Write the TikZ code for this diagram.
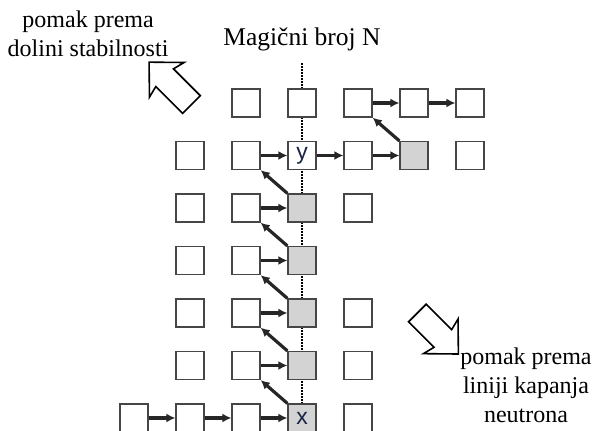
\documentclass[tikz,border=0pt]{standalone}
\usepackage{fontspec}
\setmainfont{Liberation Serif}
\newfontfamily\labfont{Liberation Sans}
\usetikzlibrary{arrows.meta}
\definecolor{boxgray}{RGB}{211,211,211}
\definecolor{edgegray}{RGB}{70,70,70}
\definecolor{labblue}{RGB}{25,35,70}

\begin{document}
\begin{tikzpicture}[x=56pt, y=52.5pt, font=\fontsize{24}{29}\selectfont,
        box/.style={draw=edgegray, line width=1.2pt, fill=white, minimum size=28pt, inner sep=0pt},
        hit/.style={box, fill=boxgray},
        lab/.style={font=\labfont\fontsize{23}{23}\selectfont, text=labblue},
        arr/.style={-{Latex[length=9pt,width=9pt]}, line width=3.2pt, black!85},
        fat/.style={draw, line width=1.6pt, fill=white, line join=miter}]
      \useasboundingbox (-2.393,-0.229) rectangle (8.232,7.962);
      % title and magic number line
      \node[anchor=base, font=\fontsize{25.5}{30}\selectfont] (title) at (3,7.086) {Magični broj N};
      \coordinate (ntop) at (3,6.76);
      \coordinate (nbot) at (3,-0.3);
      \draw[dash pattern=on 1.5pt off 1.5pt, line width=1.4pt] (ntop) -- (nbot);
      % side notes
      \node[align=center] (stab) at (-0.82,7.31) {pomak prema\\dolini stabilnosti};
      \node[align=center] (drip) at (7.0,0.63) {pomak prema\\liniji kapanja\\neutrona};
      \draw[fat, shift={(1.027,5.97)}, rotate=135] (0pt,-12.5pt) -- (38pt,-12.5pt) -- (35pt,-24.5pt) -- (60pt,0pt)
        -- (35pt,24.5pt) -- (38pt,12.5pt) -- (0pt,12.5pt) -- cycle;
      \draw[fat, shift={(5.06,2.0)}, rotate=-45] (0pt,-12.5pt) -- (36pt,-12.5pt) -- (33pt,-24.5pt) -- (58pt,0pt)
        -- (33pt,24.5pt) -- (36pt,12.5pt) -- (0pt,12.5pt) -- cycle;
      % nuclide boxes
      \node[box] (r0c2) at (2,6) {};
      \node[box] (r0c3) at (3,6) {};
      \node[box] (r0c4) at (4,6) {};
      \node[box] (r0c5) at (5,6) {};
      \node[box] (r0c6) at (6,6) {};
      \node[box] (r1c1) at (1,5) {};
      \node[box] (r1c2) at (2,5) {};
      \node[box, lab] (r1c3) at (3,5) {y};
      \node[box] (r1c4) at (4,5) {};
      \node[hit] (r1c5) at (5,5) {};
      \node[box] (r1c6) at (6,5) {};
      \node[box] (r2c1) at (1,4) {};
      \node[box] (r2c2) at (2,4) {};
      \node[hit] (r2c3) at (3,4) {};
      \node[box] (r2c4) at (4,4) {};
      \node[box] (r3c1) at (1,3) {};
      \node[box] (r3c2) at (2,3) {};
      \node[hit] (r3c3) at (3,3) {};
      \node[box] (r4c1) at (1,2) {};
      \node[box] (r4c2) at (2,2) {};
      \node[hit] (r4c3) at (3,2) {};
      \node[box] (r4c4) at (4,2) {};
      \node[box] (r5c1) at (1,1) {};
      \node[box] (r5c2) at (2,1) {};
      \node[hit] (r5c3) at (3,1) {};
      \node[box] (r5c4) at (4,1) {};
      \node[box] (r6c0) at (0,0) {};
      \node[box] (r6c1) at (1,0) {};
      \node[box] (r6c2) at (2,0) {};
      \node[hit, lab] (r6c3) at (3,0) {x};
      \node[box] (r6c4) at (4,0) {};
      % r-process path
      \draw[arr] (r6c0) -- (r6c1);
      \draw[arr] (r6c1) -- (r6c2);
      \draw[arr] (r6c2) -- (r6c3);
      \draw[arr] (r6c3.north west) -- (r5c2.south east);
      \draw[arr] (r5c2) -- (r5c3);
      \draw[arr] (r5c3.north west) -- (r4c2.south east);
      \draw[arr] (r4c2) -- (r4c3);
      \draw[arr] (r4c3.north west) -- (r3c2.south east);
      \draw[arr] (r3c2) -- (r3c3);
      \draw[arr] (r3c3.north west) -- (r2c2.south east);
      \draw[arr] (r2c2) -- (r2c3);
      \draw[arr] (r2c3.north west) -- (r1c2.south east);
      \draw[arr] (r1c2) -- (r1c3);
      \draw[arr] (r1c3) -- (r1c4);
      \draw[arr] (r1c4) -- (r1c5);
      \draw[arr] (r1c5.north west) -- (r0c4.south east);
      \draw[arr] (r0c4) -- (r0c5);
      \draw[arr] (r0c5) -- (r0c6);
    \end{tikzpicture}
\end{document}
